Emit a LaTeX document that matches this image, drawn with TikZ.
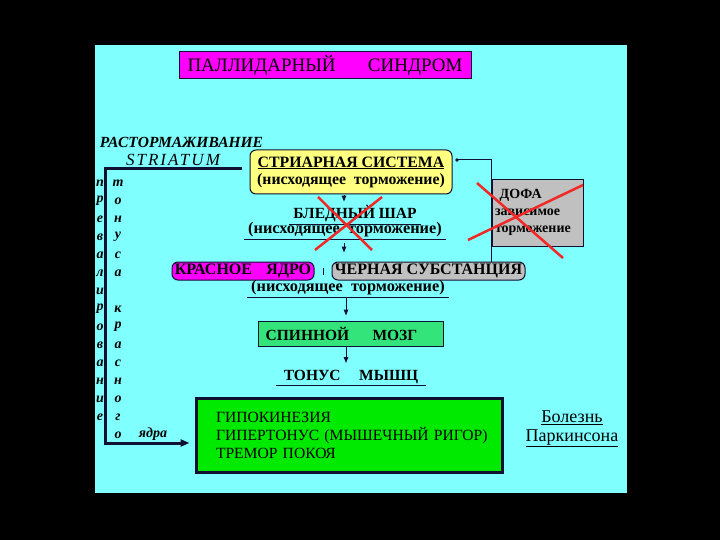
\documentclass[tikz,border=0pt]{standalone}
\usepackage{fontspec}
\setmainfont{Liberation Serif}
\usetikzlibrary{arrows.meta, positioning, calc}
\definecolor{slidecyan}{HTML}{80FFFF}
\definecolor{slidemagenta}{HTML}{FF00FF}
\definecolor{slideyellow}{HTML}{FFFF80}
\definecolor{slidegray}{HTML}{C0C0C0}
\definecolor{cordgreen}{HTML}{33E47A}
\definecolor{symgreen}{HTML}{00EA00}
\definecolor{crossred}{HTML}{F02828}
\definecolor{linenavy}{HTML}{101030}

\begin{document}
\begin{tikzpicture}[
    x=1pt, y=-1pt,
    every node/.style={font=\fontsize{15.5}{17}\selectfont\bfseries, inner sep=1pt},
    box/.style={draw=linenavy, line width=1pt, align=center},
    pill/.style={box, rounded corners=6pt, minimum height=18pt, font=\fontsize{16}{17}\selectfont\bfseries},
    ulined/.style={inner xsep=4pt, inner ysep=2pt},
    letter/.style={font=\fontsize{14}{14}\selectfont\bfseries\itshape},
    link/.style={linenavy, line width=1pt, -{Triangle[length=6pt, width=4.5pt]}},
    cross/.style={crossred, line width=2.5pt}
]
    % slide
    \fill[black] (0,0) rectangle (720,540);
    \fill[slidecyan] (95,45) rectangle (627,493);

    \node[box, fill=slidemagenta, minimum width=292pt, minimum height=27pt,
          font=\fontsize{19}{21}\selectfont] (title) at (325,65.5) {ПАЛЛИДАРНЫЙ\hspace{1.7em}СИНДРОМ};

    \node[font=\fontsize{15.5}{17}\selectfont\bfseries\itshape] (disinh) at (181.5,142) {РАСТОРМАЖИВАНИЕ};
    \node[font=\fontsize{17}{19}\selectfont\itshape\addfontfeature{LetterSpace=12}] (striatum) at (173,160) {STRIATUM};

    % main chain
    \node[box, fill=slideyellow, rounded corners=6pt, minimum width=202pt, minimum height=44pt,
          font=\fontsize{15.8}{17}\selectfont\bfseries] (striar) at (351,172)
        {\underline{СТРИАРНАЯ СИСТЕМА}\\(нисходящее\ \ торможение)};
    \node[ulined] (pallid) at (355,214) {БЛЕДНЫЙ ШАР\ };
    \node[ulined, font=\fontsize{16.3}{17}\selectfont\bfseries] (down1) at (345,230) {(нисходящее\ \ торможение)};
    \node[pill, fill=slidemagenta, minimum width=142pt] (rednuc) at (243,271) {КРАСНОЕ\hspace{0.9em}ЯДРО};
    \node[pill, fill=slidegray, minimum width=193pt] (nigra) at (428.5,271) {ЧЕРНАЯ\ СУБСТАНЦИЯ};
    \node[ulined, font=\fontsize{16.3}{17}\selectfont\bfseries] (down2) at (348,288) {(нисходящее\ \ торможение)};
    \node[box, fill=cordgreen, minimum width=185pt, minimum height=25pt] (cord) at (350.5,333.5)
        {СПИННОЙ\hspace{1.5em}МОЗГ\hspace*{18pt}};
    \node[ulined, inner xsep=8pt] (tonus) at (351,377) {ТОНУС\hspace{1.2em}МЫШЦ};
    \node[draw=linenavy, line width=3pt, fill=symgreen, minimum width=306pt, minimum height=74pt,
          align=left, text width=266pt, inner xsep=20pt, font=\fontsize{15.6}{18}\selectfont] (symptoms) at (349,435)
        {ГИПОКИНЕЗИЯ\\ГИПЕРТОНУС~(МЫШЕЧНЫЙ~РИГОР)\\ТРЕМОР~ПОКОЯ};
    \node[align=center, font=\fontsize{18}{18.5}\selectfont] (parkinson) at (572,429)
        {\underline{Болезнь}\\\underline{Паркинсона}};

    \node[box, fill=slidegray, line width=0.6pt, minimum width=91pt, minimum height=67pt, align=left,
          text width=85pt, font=\fontsize{14}{18}\selectfont\bfseries] (dopa) at (537.5,212.5)
        {\ ДОФА\\[-1pt]зависимое\\[-1pt]торможение};

    % underlines
    \foreach \n in {pallid, down1, down2, tonus}
        \draw[linenavy, line width=1pt] (\n.south west) -- (\n.south east);

    % connectors
    \draw[link, shorten <=1pt, shorten >=2pt] (striar.south -| 344,0) -- (pallid.north -| 344,0);
    \draw[link, shorten <=3pt, shorten >=9pt] (down1.south -| 344,0) -- (nigra.north -| 344,0);
    \draw[linenavy, line width=1pt] ($(rednuc.east)!0.5!(nigra.west)$) ++(0,-3) -- ++(0,7);
    \draw[link, shorten >=5pt] (down2.south -| 346,0) -- (cord.north -| 346,0);
    \draw[link, shorten >=5pt] (cord.south -| 346,0) -- (tonus.north -| 346,0);
    \coordinate (dotpt) at (457,160);
    \fill[linenavy] (dotpt) circle (1.8);
    \draw[linenavy, line width=1pt] (dotpt) -| ([xshift=62.5pt]nigra.north);
    \coordinate (lstart) at (242,169);
    \draw[linenavy, line width=3pt, -{Triangle[length=9pt, width=7pt]}]
        (lstart) -- (105,169) -- (105,443) -- ([shift={(-5pt,-8pt)}]symptoms.west);

    % vertical captions
    \foreach \ch [count=\i] in {п,р,е,в,а,л,и,р,о,в,а,н,и,е}
        \node[letter] (lcol\i) at (100,183+18*\i-18) {\ch};
    \foreach \ch [count=\i] in {т,о,н,у,с,а}
        \node[letter] (rcol\i) at (118,183+18*\i-18) {\ch};
    \foreach \ch [count=\i from 8] in {к,р,а,с,н,о,г,о}
        \node[letter] (rcol\i) at (118,183+18*\i-18) {\ch};
    \node[letter] (nuclei) at (153,434) {ядра};

    % crossed out
    \draw[cross] (318,197) -- (372,250);
    \draw[cross] (382,197) -- (315,250);
    \draw[cross] (477,183) -- (563,258);
    \draw[cross] (583,185) -- (468,240);
\end{tikzpicture}
\end{document}
